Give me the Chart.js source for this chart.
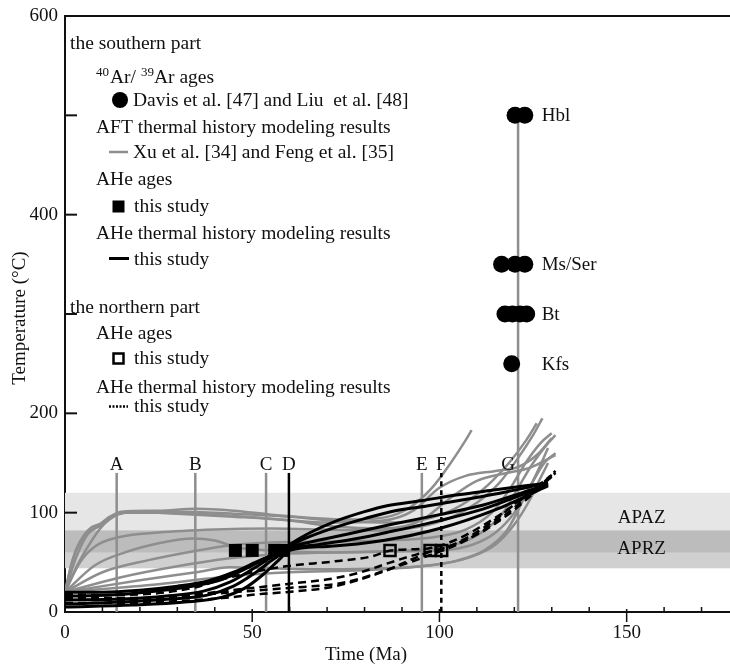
<!DOCTYPE html>
<html><head><meta charset="utf-8">
<script src="https://cdn.jsdelivr.net/npm/chart.js@4/dist/chart.umd.min.js"></script>
<style>html,body{margin:0;padding:0;background:#fff;overflow:hidden;}#wrap{width:730px;height:664px;position:relative;}canvas{display:block;}</style>
</head><body><div id="wrap"><canvas id="c" width="730" height="664"></canvas></div>
<script>
const FONT = '"Liberation Serif","Times New Roman",serif';
const GRAY = '#8e8e8e';

// ---- axis ticks ----
const xTickLabels = [0, 50, 100, 150];
const xMinorTicks = [10, 20, 30, 40, 60, 70, 80, 90, 110, 120, 130, 140, 160, 170];
const yTickLabels = [0, 100, 200, 400, 600];
const yTickMarks = [100, 200, 300, 400, 500];

// ---- temperature zones (°C) ----
const apazRange = [60, 120];
const aprzRange = [44, 82];
const zoneNames = ['APAZ', 'APRZ'];
const zoneLabelTemps = [95, 63];
const zoneLabelAge = 154;

// ---- time markers A–G (Ma) ----
const markerLetters = ['A', 'B', 'C', 'D', 'E', 'F', 'G'];
const markerAges = [13.8, 34.8, 53.7, 59.8, 95.3, 100.5, 121];
const markerTops = [140, 140, 140, 140, 140, 140, 505];

// ---- 40Ar/39Ar ages (southern part) ----
const arMinerals = ['Hbl', 'Ms/Ser', 'Bt', 'Kfs'];
const arTemps = [500, 350, 300, 250];
const hblAges = [120.2, 122.8];
const msAges = [116.6, 120.2, 122.8];
const btAges = [117.5, 119.5, 121.5, 123.3];
const kfsAges = [119.3];

// ---- AHe ages ----
const southAheAges = [45.5, 50, 56, 58];
const southAheTemps = [62, 62, 62, 62];
const northAheAges = [86.8, 97.5, 100.6];
const northAheTemps = [62, 62, 62];

// ---- AFT thermal history modeling (Xu et al., Feng et al.) [age, T] ----
const aft1 = [[0,20],[1.5,45],[3,63],[5,77],[7,85],[9.5,89],[12,96],[15,101],[25,102],[35,104],[45,102],[55,98],[65,95],[75,93],[85,95],[92,105],[98,125],[103,150],[106.5,170],[108.6,183]];
const aft2 = [[0,20],[2,52],[4,70],[7,82],[10,88],[13,97],[16,100],[30,101],[45,99],[60,96],[75,91],[88,90],[98,95],[106,108],[113,128],[119,152],[123,172],[126,190]];
const aft3 = [[0,20],[3,45],[6,65],[9,82],[12,94],[15,100],[25,100],[40,98],[55,94],[70,90],[85,92],[93,102],[100,125],[107,137],[115,142],[121,146],[126,158],[130,175]];
const aft4 = [[0,20],[4,50],[8,66],[14,75],[25,80],[40,83],[55,84],[70,83],[85,82],[95,86],[103,95],[110,110],[116,130],[121,155],[125,178],[127.5,195]];
const aft5 = [[0,20],[8,47],[16,60],[26,70],[34,74],[40,72],[46,65],[55,62],[70,60],[85,61],[98,64],[106,70],[112,82],[117,100],[121,125],[125,150],[129,170],[131,178]];
const aft6 = [[0,20],[10,40],[22,52],[34,61],[44,67],[55,70],[70,71],[85,72],[98,75],[107,83],[114,100],[119,125],[123,150],[127,170],[130,180]];
const aft7 = [[0,20],[15,35],[30,46],[44,54],[55,58],[70,60],[85,61],[100,62],[109,68],[115,80],[120,100],[124,125],[128,150],[131,160]];
const aft8 = [[0,20],[20,32],[35,40],[44,45],[55,44],[70,43],[85,44],[98,47],[108,55],[115,68],[120,88],[124,112],[127,135],[129,150]];
const aft9 = [[0,20],[3,55],[6,78],[10,88],[14,98],[18,101],[30,99],[45,96],[60,92],[72,86],[85,84],[95,92],[103,115],[110,132],[118,140],[124,145],[131,158]];
const aft10 = [[0,20],[25,28],[44,36],[60,40],[80,42],[95,46],[105,52],[112,62],[118,82],[122,110],[126,140],[129,165]];

// ---- AHe thermal history modeling, southern part (solid) ----
const aheS1 = [[0,20],[10,20],[20,22],[30,26],[38,31],[45,40],[52,52],[57,60],[60,68],[65,79],[72,91],[80,101],[86,107],[95,112],[105,118],[115,123],[123,127],[129,130]];
const aheS2 = [[0,16],[12,17],[24,21],[34,26],[42,33],[49,45],[55,57],[59,65],[64,74],[72,85],[80,94],[87,101],[97,107],[108,114],[118,121],[129,130]];
const aheS3 = [[0,12],[15,13],[27,16],[37,21],[44,30],[50,43],[55,55],[59,64],[65,70],[75,78],[87,88],[100,98],[112,108],[122,120],[129,129]];
const aheS4 = [[0,8],[15,10],[28,13],[38,17],[45,26],[51,40],[56,54],[60,63],[68,68],[78,74],[87,81],[100,92],[112,104],[122,118],[129,128]];
const aheS5 = [[0,5],[18,7],[32,10],[42,15],[48,24],[53,38],[57,52],[60,62],[70,66],[85,72],[100,84],[115,103],[129,127]];

// ---- AHe thermal history modeling, northern part (dashed) ----
const aheN1 = [[0,18],[12,17],[25,19],[35,25],[42,33],[50,40],[59,46],[72,51],[82,56],[87,62],[97,64],[104,72],[112,88],[120,108],[125,123],[130,138]];
const aheN2 = [[0,13],[15,12],[30,15],[42,21],[52,25],[59,28],[72,34],[79,40],[87,50],[94,58],[101,64],[108,76],[116,96],[123,118],[130,136]];
const aheN3 = [[0,9],[15,9],[30,11],[42,14],[52,18],[59,20],[71,25],[79,33],[86,42],[92,52],[97,60],[104,68],[112,82],[119,100],[125,119],[131,140]];
const aheN4 = [[0,14],[20,14],[35,17],[45,20],[59,24],[75,30],[88,45],[98,58],[106,70],[114,88],[121,108],[126,124],[131,142]];

const aftCurves = [aft1, aft2, aft3, aft4, aft5, aft6, aft7, aft8, aft9, aft10];
const aheSouthCurves = [aheS1, aheS2, aheS3, aheS4, aheS5];
const aheNorthCurves = [aheN1, aheN2, aheN3, aheN4];

const toXY = arr => arr.map(([x, y]) => ({x, y}));
const datasets = [];
aftCurves.forEach(c => datasets.push({data: toXY(c), borderColor: GRAY, borderWidth: 2.5, pointRadius: 0, cubicInterpolationMode: 'monotone', order: 10}));
markerAges.forEach((t, i) => {
  const black = markerLetters[i] === 'D' || markerLetters[i] === 'F';
  datasets.push({data: [{x: t, y: 0}, {x: t, y: markerTops[i]}], borderColor: black ? '#000' : GRAY, borderWidth: 2.5,
    borderDash: markerLetters[i] === 'F' ? [5, 4] : [], pointRadius: 0, order: 9});
});
aheSouthCurves.forEach(c => datasets.push({data: toXY(c), borderColor: '#000', borderWidth: 3, pointRadius: 0, cubicInterpolationMode: 'monotone', order: 8}));
aheNorthCurves.forEach(c => datasets.push({data: toXY(c), borderColor: '#000', borderWidth: 2.5, borderDash: [8, 5], pointRadius: 0, cubicInterpolationMode: 'monotone', order: 7}));
datasets.push({data: southAheAges.map((t, i) => ({x: t, y: southAheTemps[i]})), showLine: false, pointStyle: 'rect', pointRadius: 9.2, backgroundColor: '#000', borderWidth: 0, order: 3});
datasets.push({data: northAheAges.map((t, i) => ({x: t, y: northAheTemps[i]})), showLine: false, pointStyle: 'rect', pointRadius: 7.8, backgroundColor: 'rgba(0,0,0,0)', borderColor: '#000', borderWidth: 2.5, order: 2});
[hblAges, msAges, btAges, kfsAges].forEach((ages, i) => datasets.push({data: ages.map(t => ({x: t, y: arTemps[i]})), showLine: false, pointStyle: 'circle', pointRadius: 8.5, backgroundColor: '#000', borderWidth: 0, order: 1}));

function txt(ctx, s, x, y, size, align, base) {
  ctx.font = (size || 19.5) + 'px ' + FONT;
  ctx.textAlign = align || 'left';
  ctx.textBaseline = base || 'alphabetic';
  ctx.fillStyle = '#111';
  ctx.fillText(s, x, y);
}

const decor = {
  id: 'decor',
  beforeDatasetsDraw(chart) {
    const {ctx, chartArea: a, scales: {y}} = chart;
    ctx.save();
    ctx.beginPath(); ctx.rect(a.left, a.top, a.right - a.left, a.bottom - a.top); ctx.clip();
    const band = (lo, hi, col) => { const y1 = y.getPixelForValue(hi), y2 = y.getPixelForValue(lo); ctx.fillStyle = col; ctx.fillRect(a.left, y1, a.right - a.left, y2 - y1); };
    band(apazRange[0], apazRange[1], '#e6e6e6');
    band(aprzRange[0], aprzRange[1], '#d0d0d0');
    band(Math.max(apazRange[0], aprzRange[0]), Math.min(apazRange[1], aprzRange[1]), '#bcbcbc');
    ctx.restore();
  },
  afterDraw(chart) {
    const {ctx, chartArea: a, scales: {x, y}} = chart;
    ctx.save();
    ctx.strokeStyle = '#111'; ctx.lineWidth = 2;
    ctx.beginPath(); ctx.moveTo(a.left - 1, a.top); ctx.lineTo(a.right, a.top); ctx.stroke();
    yTickMarks.forEach(v => { const p = y.getPixelForValue(v); ctx.beginPath(); ctx.moveTo(a.left, p); ctx.lineTo(a.left + 12, p); ctx.stroke(); });
    ctx.lineWidth = 1.5;
    xMinorTicks.forEach(v => { const p = x.getPixelForValue(v); ctx.beginPath(); ctx.moveTo(p, a.bottom); ctx.lineTo(p, a.bottom - 5); ctx.stroke(); });
    xTickLabels.forEach(v => { if (v === 0) return; const p = x.getPixelForValue(v); ctx.beginPath(); ctx.moveTo(p, a.bottom - 3); ctx.lineTo(p, a.bottom + 10); ctx.stroke(); });
    zoneNames.forEach((n, i) => txt(ctx, n, x.getPixelForValue(zoneLabelAge), y.getPixelForValue(zoneLabelTemps[i]), 19, 'center', 'middle'));
    markerLetters.forEach((L, i) => {
      let px = x.getPixelForValue(markerAges[i]);
      if (L === 'G') px -= 10;
      txt(ctx, L, px, y.getPixelForValue(148), 19, 'center', 'middle');
    });
    arMinerals.forEach((m, i) => txt(ctx, m, x.getPixelForValue(127.3), y.getPixelForValue(arTemps[i]) + 1, 19, 'left', 'middle'));
    txt(ctx, 'Time (Ma)', 366, 655, 19, 'center', 'middle');
    ctx.save(); ctx.translate(20, 318); ctx.rotate(-Math.PI / 2); txt(ctx, 'Temperature (°C)', 0, 0, 19, 'center', 'middle'); ctx.restore();
    // legend
    txt(ctx, 'the southern part', 70, 49);
    ctx.font = '13px ' + FONT; ctx.fillStyle = '#111'; ctx.textAlign = 'left'; ctx.textBaseline = 'alphabetic';
    ctx.fillText('40', 96, 76);
    txt(ctx, 'Ar/', 110, 83);
    ctx.font = '13px ' + FONT; ctx.fillText('39', 141, 76);
    txt(ctx, 'Ar ages', 154, 83);
    ctx.fillStyle = '#000'; ctx.beginPath(); ctx.arc(120, 100, 8, 0, Math.PI * 2); ctx.fill();
    txt(ctx, 'Davis et al. [47] and Liu  et al. [48]', 133, 106);
    txt(ctx, 'AFT thermal history modeling results', 96, 133);
    ctx.strokeStyle = GRAY; ctx.lineWidth = 2.5; ctx.beginPath(); ctx.moveTo(109, 152); ctx.lineTo(128, 152); ctx.stroke();
    txt(ctx, 'Xu et al. [34] and Feng et al. [35]', 133, 158);
    txt(ctx, 'AHe ages', 96, 185);
    ctx.fillStyle = '#000'; ctx.fillRect(112.5, 200.5, 12, 12);
    txt(ctx, 'this study', 134, 212);
    txt(ctx, 'AHe thermal history modeling results', 96, 239);
    ctx.strokeStyle = '#000'; ctx.lineWidth = 3; ctx.beginPath(); ctx.moveTo(109, 258.5); ctx.lineTo(129, 258.5); ctx.stroke();
    txt(ctx, 'this study', 134, 265);
    txt(ctx, 'the northern part', 70, 313);
    txt(ctx, 'AHe ages', 96, 339);
    ctx.strokeStyle = '#000'; ctx.lineWidth = 2.5; ctx.strokeRect(113.5, 353.5, 10, 10);
    txt(ctx, 'this study', 134, 364);
    txt(ctx, 'AHe thermal history modeling results', 96, 393);
    ctx.setLineDash([2, 1.5]); ctx.lineWidth = 2.5; ctx.beginPath(); ctx.moveTo(109, 406.5); ctx.lineTo(128, 406.5); ctx.stroke(); ctx.setLineDash([]);
    txt(ctx, 'this study', 134, 412);
    ctx.restore();
  }
};

new Chart(document.getElementById('c'), {
  type: 'line',
  data: {datasets},
  options: {
    responsive: false, animation: false, devicePixelRatio: 1,
    layout: {autoPadding: false, padding: {top: 16, right: 0, left: 0, bottom: 0}},
    plugins: {legend: {display: false}, tooltip: {enabled: false}},
    elements: {line: {tension: 0.4}},
    scales: {
      x: {type: 'linear', min: 0, max: 177.6,
        afterBuildTicks: s => { s.ticks = xTickLabels.map(v => ({value: v})); },
        afterFit: s => { s.height = 52; s.paddingLeft = 0; s.paddingRight = 0; },
        grid: {display: false, drawTicks: false},
        border: {display: true, color: '#111', width: 2},
        ticks: {padding: 10, color: '#111', font: {family: FONT, size: 19}, maxRotation: 0}},
      y: {type: 'linear', min: 0, max: 600,
        afterBuildTicks: s => { s.ticks = yTickLabels.map(v => ({value: v})); },
        afterFit: s => { s.width = 65; s.paddingTop = 0; s.paddingBottom = 0; },
        grid: {display: false, drawTicks: false},
        border: {display: true, color: '#111', width: 2},
        ticks: {padding: 7, color: '#111', font: {family: FONT, size: 19}}}
    }
  },
  plugins: [decor]
});
</script></body></html>
